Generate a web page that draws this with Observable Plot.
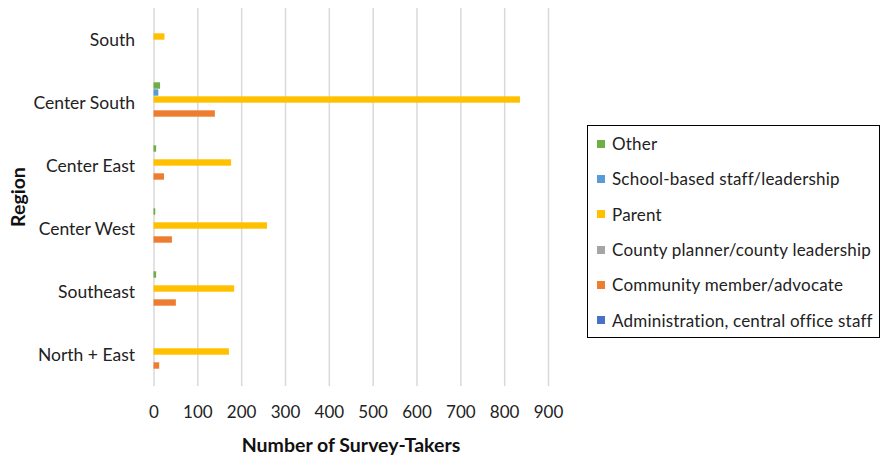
<!DOCTYPE html>
<html><head><meta charset="utf-8">
<script src="https://cdn.jsdelivr.net/npm/d3@7"></script>
<script src="https://cdn.jsdelivr.net/npm/@observablehq/plot@0.6"></script>
<style>
body{margin:0;background:#fff;font-family:Lato,"Open Sans",sans-serif}
#wrap{position:relative;width:881px;height:456px;overflow:hidden}
#legend{position:absolute;left:587px;top:125px;width:293px;height:213px;border:1.5px solid #000;box-sizing:border-box;background:#fff}
.item{height:35.3px;display:flex;align-items:center;font-size:17px;letter-spacing:0.2px;color:#222;white-space:nowrap}
.sw{width:8px;height:8px;margin-left:9px;margin-right:7px;flex:none}
#ytitle{position:absolute;left:17px;top:197px;transform:translate(-50%,-50%) rotate(-90deg);font-weight:bold;font-size:19.5px;color:#111}
#xtitle{position:absolute;left:351px;top:444px;transform:translate(-50%,-50%);font-weight:bold;font-size:19.5px;color:#111;white-space:nowrap}
</style></head>
<body>
<div id="wrap"><div id="chart"></div><div id="ytitle">Region</div><div id="xtitle">Number of Survey-Takers</div><div id="legend"></div></div>
<script>
const regions = ["South","Center South","Center East","Center West","Southeast","North + East"];
const series = ["Other","School-based staff/leadership","Parent","County planner/county leadership","Community member/advocate","Administration, central office staff"];
const colors = ["#70AD47","#5B9BD5","#FFC000","#A5A5A5","#ED7D31","#4472C4"];
const other     = [0, 15,   6,   4,   6,   0];
const school    = [0, 11,   0,   0,   0,   0];
const parent    = [25, 836, 177, 259, 184, 172];
const county    = [0, 0,    0,   0,   0,   0];
const community = [0, 140,  24,  42,  51,  13];
const admin     = [0, 0,    0,   0,   0,   0];
const xTicks = [0,100,200,300,400,500,600,700,800,900];

const valuesBySeries = [other, school, parent, county, community, admin];
const data = [];
regions.forEach((r, i) => series.forEach((s, j) => data.push({region: r, series: s, value: valuesBySeries[j][i]})));

const chart = Plot.plot({
  width: 881, height: 456,
  marginLeft: 153.5, marginRight: 333, marginTop: 6, marginBottom: 69,
  style: {fontFamily: "Lato, 'Open Sans', sans-serif", fontSize: "17px", color: "#222"},
  x: {domain: [0, 900]},
  y: {domain: series, paddingInner: 0, paddingOuter: 0.97, axis: null},
  fy: {domain: regions, padding: 0},
  color: {domain: series, range: colors},
  marks: [
    Plot.gridX(xTicks, {stroke: "#d9d9d9", strokeWidth: 1.5, strokeOpacity: 1}),
    Plot.barX(data.filter(d => d.value > 0), {x: "value", y: "series", fy: "region", fill: "series", insetTop: 0.3, insetBottom: 0.3}),
    Plot.axisX(xTicks, {tickSize: 0, tickPadding: 19, tickFormat: d => d, label: null, fontSize: 17}),
    Plot.axisFy({anchor: "left", tickSize: 0, tickPadding: 19, label: null, fontSize: 17.5})
  ]
});
document.getElementById("chart").appendChild(chart);

const legend = document.getElementById("legend");
series.forEach((s, j) => {
  const row = document.createElement("div");
  row.className = "item";
  row.innerHTML = `<span class="sw" style="background:${colors[j]}"></span><span>${s}</span>`;
  legend.appendChild(row);
});
</script>
</body></html>
